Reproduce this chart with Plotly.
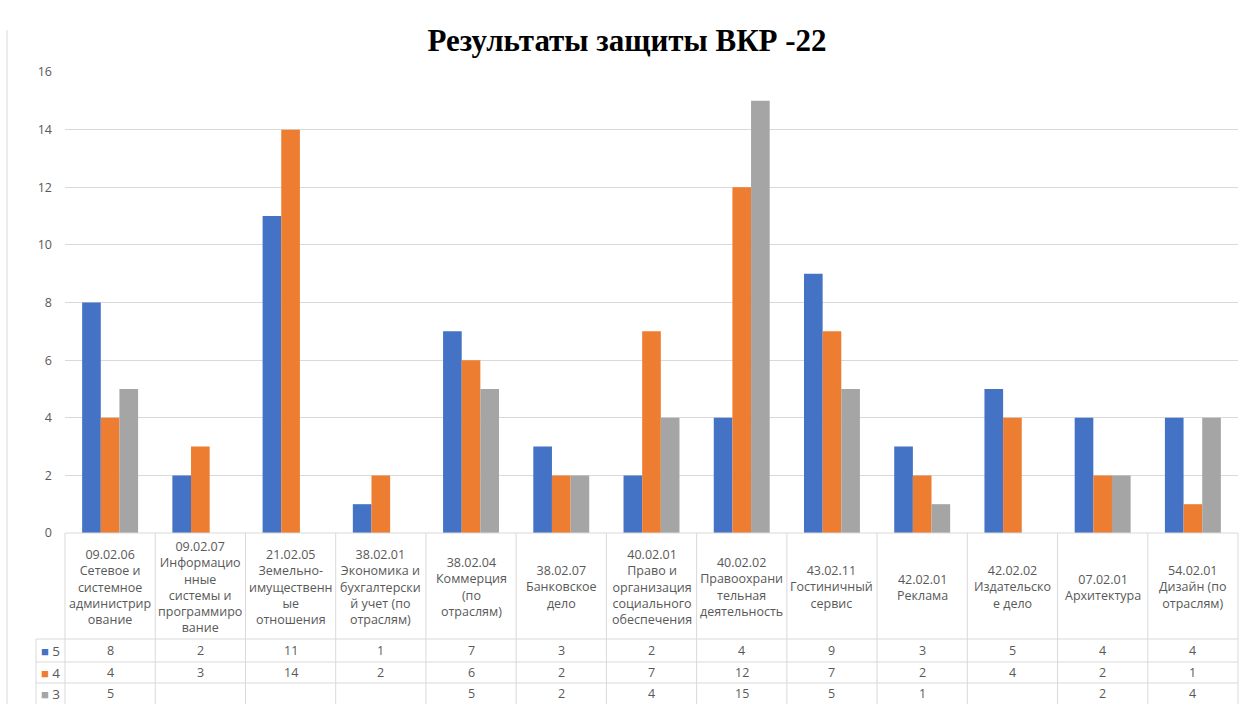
import plotly.graph_objects as go

# ---- data ----
codes = ["09.02.06", "09.02.07", "21.02.05", "38.02.01", "38.02.04", "38.02.07", "40.02.01",
         "40.02.02", "43.02.11", "42.02.01", "42.02.02", "07.02.01", "54.02.01"]
names = [
    ["Сетевое и", "системное", "администрир", "ование"],
    ["Информацио", "нные", "системы и", "программиро", "вание"],
    ["Земельно-", "имущественн", "ые", "отношения"],
    ["Экономика и", "бухгалтерски", "й учет (по", "отраслям)"],
    ["Коммерция", "(по", "отраслям)"],
    ["Банковское", "дело"],
    ["Право и", "организация", "социального", "обеспечения"],
    ["Правоохрани", "тельная", "деятельность"],
    ["Гостиничный", "сервис"],
    ["Реклама"],
    ["Издательско", "е дело"],
    ["Архитектура"],
    ["Дизайн (по", "отраслям)"],
]
series_names = ["5", "4", "3"]
grade5 = [8, 2, 11, 1, 7, 3, 2, 4, 9, 3, 5, 4, 4]
grade4 = [4, 3, 14, 2, 6, 2, 7, 12, 7, 2, 4, 2, 1]
grade3 = [5, None, None, None, 5, 2, 4, 15, 5, 1, None, 2, 4]
colors = ["#4472C4", "#ED7D31", "#A5A5A5"]
y_ticks = [0, 2, 4, 6, 8, 10, 12, 14, 16]
title_text = "Результаты защиты ВКР -22"

series = [grade5, grade4, grade3]
n = len(codes)
xs = list(range(n))

fig = go.Figure()
for name, vals, col in zip(series_names, series, colors):
    fig.add_trace(go.Bar(x=xs, y=vals, name=name, marker=dict(color=col, line=dict(width=0)),
                         showlegend=False))

W, H = 1246, 704
ml, mr, mt, mb = 65, 8, 72, 171
ph = H - mt - mb
pw = W - ml - mr


def py(pix):  # pixel row -> paper y
    return (H - mb - pix) / ph


def px(pix):  # pixel col -> paper x
    return (pix - ml) / pw


grid = "#D9D9D9"
txt = "#595959"
font_family = "Open Sans"
fs = 12.5

shapes = []
# table horizontal lines
row_lines = [639, 662, 683]
shapes.append(dict(type="line", xref="paper", yref="paper", x0=0, x1=1, y0=0, y1=0,
                   line=dict(color=grid, width=1)))
for r in row_lines:
    shapes.append(dict(type="line", xref="paper", yref="paper", x0=px(36), x1=1, y0=py(r), y1=py(r),
                       line=dict(color=grid, width=1)))
# vertical lines
for k in range(n + 1):
    shapes.append(dict(type="line", xref="paper", yref="paper", x0=k / n, x1=k / n, y0=0, y1=py(710),
                       line=dict(color=grid, width=1)))
shapes.append(dict(type="line", xref="paper", yref="paper", x0=px(36), x1=px(36), y0=py(639), y1=py(710),
                   line=dict(color=grid, width=1)))
# outer chart border (left)
shapes.append(dict(type="line", xref="paper", yref="paper", x0=px(7), x1=px(7), y0=py(30), y1=py(710),
                   line=dict(color=grid, width=1)))

annotations = []
# header cells
for i in range(n):
    annotations.append(dict(x=xs[i], xref="x", y=py(587), yref="paper", yanchor="middle",
                            text="<br>".join([codes[i]] + names[i]), showarrow=False,
                            font=dict(family=font_family, size=fs, color=txt), align="center"))
# value rows
row_centers = [650.5, 672.5, 693.5]
for rc, name, vals, col in zip(row_centers, series_names, series, colors):
    annotations.append(dict(x=px(39), xref="paper", xanchor="left", y=py(rc), yref="paper",
                            yanchor="middle", showarrow=False,
                            text=f'<span style="color:{col};font-size:13px">■</span> {name}',
                            font=dict(family=font_family, size=13.5, color=txt)))
    for i in range(n):
        if vals[i] is None:
            continue
        annotations.append(dict(x=xs[i], xref="x", y=py(rc), yref="paper", yanchor="middle",
                                text=str(vals[i]), showarrow=False,
                                font=dict(family=font_family, size=fs, color=txt)))

fig.update_layout(
    width=W, height=H,
    margin=dict(l=ml, r=mr, t=mt, b=mb),
    paper_bgcolor="white", plot_bgcolor="white",
    barmode="group", bargap=0.38, bargroupgap=0,
    title=dict(text=f"<b>{title_text}</b>", x=627 / W, xanchor="center", xref="container",
               y=1 - 40 / H, yanchor="middle", yref="container",
               font=dict(family="Liberation Serif", size=31, color="black")),
    xaxis=dict(range=[-0.5, n - 0.5], showticklabels=False, showgrid=False, zeroline=False,
               showline=False, fixedrange=True),
    yaxis=dict(range=[0, 16], tickvals=y_ticks, showgrid=True, gridcolor=grid, gridwidth=1,
               zeroline=False, showline=False, ticks="", ticklabelstandoff=12,
               tickfont=dict(family=font_family, size=fs, color=txt)),
    shapes=shapes,
    annotations=annotations,
)

fig.write_html("out.html", config={"displayModeBar": False},
               post_script="document.body.style.margin='0';document.body.style.overflow='hidden';")
